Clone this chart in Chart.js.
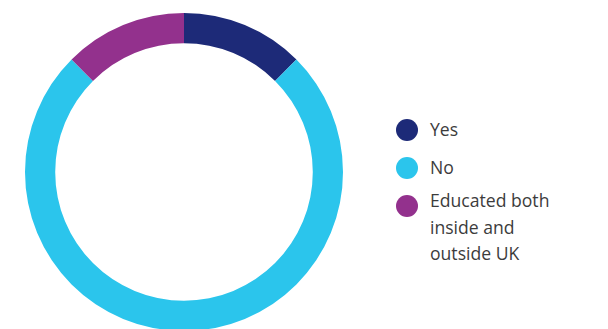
<!DOCTYPE html>
<html>
<head>
<meta charset="utf-8">
<script src="https://cdn.jsdelivr.net/npm/chart.js@4"></script>
<style>
  html, body { margin: 0; padding: 0; background: #fff; overflow: hidden; }
  body { width: 608px; height: 329px; position: relative; font-family: "Open Sans", "Noto Sans", sans-serif; }
  .chartBox { position: absolute; left: 25px; top: 13px; width: 318px; height: 318px; }
  .legend { position: absolute; left: 396px; top: 116px; color: #3c3c3c; font-size: 17.6px; line-height: 26.5px; }
  .legend .item { position: relative; padding-left: 34px; margin-bottom: 11.5px; }
  .legend .item.multi { margin-top: -5px; }
  .legend .dot { position: absolute; left: 0; top: 3px; width: 22px; height: 22px; border-radius: 50%; }
  .legend .item.multi .dot { top: 8px; }
</style>
</head>
<body>
<div class="chartBox"><canvas class="chartEdu"></canvas></div>
<div class="legend" id="legend"></div>
<script>
const labels = ['Yes', 'No', 'Educated both inside and outside UK'];
const legendLines = [['Yes'], ['No'], ['Educated both', 'inside and', 'outside UK']];
const values = [12.5, 75, 12.5];
const colors = ['#1d2a78', '#2bc5ec', '#93318d'];

document.addEventListener('DOMContentLoaded', () => {
  new Chart(document.querySelector('.chartEdu'), {
    type: 'doughnut',
    data: {
      labels: labels,
      datasets: [{
        data: values,
        backgroundColor: colors,
        borderWidth: 0
      }]
    },
    options: {
      responsive: true,
      maintainAspectRatio: false,
      animation: false,
      cutout: '81%',
      plugins: { legend: { display: false }, tooltip: { enabled: false } }
    }
  });

  // легенда справа, строки переносим вручную
  const box = document.getElementById('legend');
  legendLines.forEach((lines, i) => {
    const item = document.createElement('div');
    item.className = lines.length > 1 ? 'item multi' : 'item';
    item.innerHTML = '<span class="dot" style="background:' + colors[i] + '"></span>' + lines.join('<br>');
    box.appendChild(item);
  });
});
</script>
</body>
</html>
